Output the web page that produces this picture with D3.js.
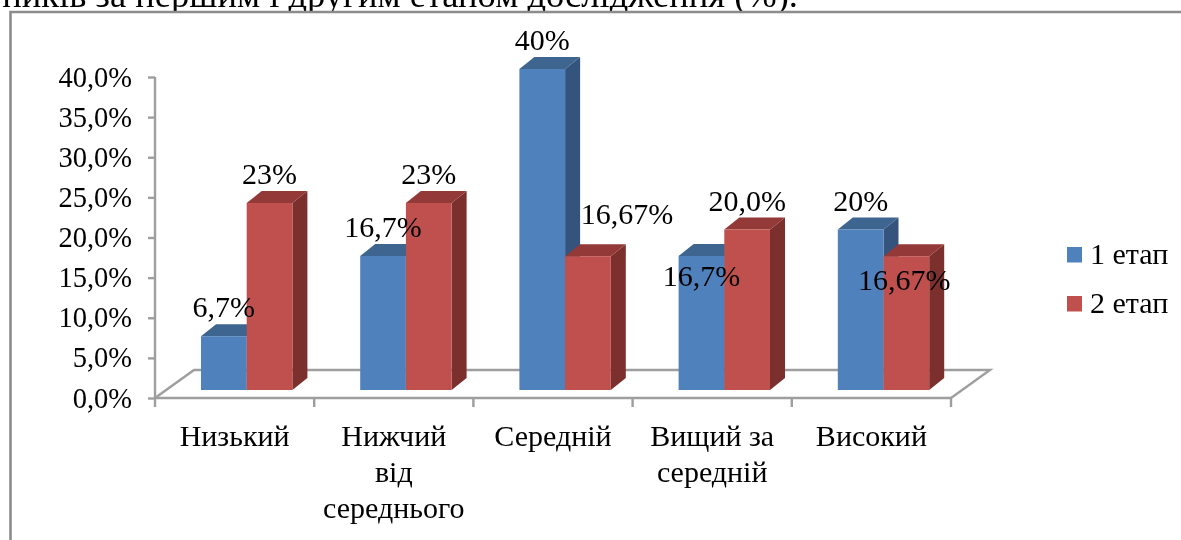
<!DOCTYPE html>
<html lang="uk">
<head>
<meta charset="utf-8">
<script src="https://cdn.jsdelivr.net/npm/d3@7/dist/d3.min.js"></script>
<style>
html,body{margin:0;padding:0;background:#fff;overflow:hidden}
svg{display:block;filter:blur(0.45px)}
text{font-family:"Liberation Serif",serif;fill:#000}
</style>
</head>
<body>
<div id="chart"></div>
<script>
const categories = [["Низький"],["Нижчий","від","середнього"],["Середній"],["Вищий за","середній"],["Високий"]];
const seriesNames = ["1 етап","2 етап"];
const stage1Values = [6.7,16.7,40,16.7,20];
const stage2Values = [23.3,23.3,16.67,20,16.67];
const stage1Labels = ["6,7%","16,7%","40%","16,7%","20%"];
const stage2Labels = ["23%","23%","16,67%","20,0%","16,67%"];
const yTicks = [0,5,10,15,20,25,30,35,40];
const titleLine = "ників за першим і другим етапом дослідження (%).";

const W=1181,H=540;
const colors=[{f:"#4F81BD",t:"#3E6490",s:"#34547E"},{f:"#C0504D",t:"#933A38",s:"#7B302E"}];
const gridC="#9E9E9E";
const svg=d3.select("#chart").append("svg").attr("width",W).attr("height",H);

// title fragment clipped at the top
svg.append("text").attr("x",798).attr("y",7).attr("text-anchor","end")
  .attr("font-size",36.5).text(titleLine);

// chart frame
svg.append("rect").attr("x",0).attr("y",12).attr("width",W).attr("height",H).attr("fill","#fff");
svg.append("path").attr("d",`M10.5,${H+2}V12H${W+2}`).attr("fill","none")
  .attr("stroke","#8C8C8C").attr("stroke-width",2.6);

const y=d3.scaleLinear().domain([0,40]).range([398,77]);
const x0=d3.scaleBand().domain(d3.range(categories.length)).range([155,951]);
const x1=d3.scaleBand().domain([0,1]).range([46,137.4]);
const depthX=15,depthY=12,floorInset=8,wallX=39,wallY=28;
const yFront=v=>y(v)-floorInset;

// floor
const floor=svg.append("g").attr("fill","none").attr("stroke",gridC).attr("stroke-width",2.4);
floor.append("path").attr("d",`M155,398L${155+wallX},${398-wallY}H${951+wallX}L951,398`);

// axes
const axL=svg.append("g").attr("transform","translate(155,0)")
  .call(d3.axisLeft(y).tickValues(yTicks).tickSize(7).tickFormat(d=>d3.format(".1f")(d).replace(".",",")+"%"));
axL.selectAll("line,path").attr("stroke",gridC).attr("stroke-width",2.4);
axL.select(".domain").attr("d","M0,77V398");
axL.selectAll("text").attr("font-size",28.5).attr("font-family",'"Liberation Serif",serif').attr("fill","#000")
  .attr("dy",0).attr("x",0).attr("y",0)
  .attr("text-anchor","end").attr("transform","translate(-23,9)");

const axB=svg.append("g").attr("transform","translate(0,398)")
  .call(d3.axisBottom(x0).tickSize(0).tickFormat(""));
axB.selectAll(".tick").remove();
axB.select(".domain").attr("d","M155,0H951").attr("stroke",gridC).attr("stroke-width",2.4);
axB.selectAll("line.t").data(d3.range(categories.length+1)).join("line").attr("class","t")
  .attr("x1",i=>i<categories.length?x0(i):x0.range()[1]).attr("x2",i=>i<categories.length?x0(i):x0.range()[1])
  .attr("y1",0).attr("y2",9).attr("stroke",gridC).attr("stroke-width",2.4);

// bars
const rows=[stage1Values,stage2Values];
const labels=[stage1Labels,stage2Labels];
categories.forEach((c,i)=>{
  const g=svg.append("g").attr("transform",`translate(${x0(i)},0)`);
  [0,1].forEach(s=>{
    const v=rows[s][i],l=x1(s),r=l+x1.bandwidth(),top=yFront(v),bot=yFront(0);
    g.append("path").attr("fill",colors[s].s)
      .attr("d",`M${r},${top}L${r+depthX},${top-depthY}V${bot-depthY}L${r},${bot}Z`);
    g.append("path").attr("fill",colors[s].t)
      .attr("d",`M${l},${top}L${l+depthX},${top-depthY}H${r+depthX}L${r},${top}Z`);
    g.append("rect").attr("x",l).attr("y",top).attr("width",x1.bandwidth()).attr("height",bot-top)
      .attr("fill",colors[s].f);
  });
});

// hand-moved data labels in the reference: [series, category, dx, dy]
const nudges=[[1,2,39,-13],[0,3,0,49],[1,4,-2,53]];
[0,1].forEach(s=>categories.forEach((c,i)=>{
  const n=nudges.find(a=>a[0]===s&&a[1]===i)||[s,i,0,0];
  const cx=x0(i)+x1(s)+x1.bandwidth()/2+n[2];
  const by=yFront(rows[s][i])-19+n[3];
  svg.append("text").attr("text-anchor","middle").attr("font-size",30)
    .attr("transform",`translate(${cx},${by})`).text(labels[s][i]);
}));

// category labels
categories.forEach((c,i)=>{
  const t=svg.append("text").attr("text-anchor","middle").attr("font-size",30)
    .attr("transform",`translate(${x0(i)+x0.bandwidth()/2},446)`);
  c.forEach((ln,k)=>t.append("tspan").attr("x",0).attr("y",k*36).text(ln));
});

// legend
const legendY=d3.scalePoint().domain([0,1]).range([247,296]);
seriesNames.forEach((n,s)=>{
  svg.append("rect").attr("x",1067).attr("y",legendY(s)).attr("width",15).attr("height",15.5).attr("fill",colors[s].f);
  svg.append("text").attr("font-size",30)
    .attr("transform",`translate(1090,${legendY(s)+17})`).text(n);
});
</script>
</body>
</html>
